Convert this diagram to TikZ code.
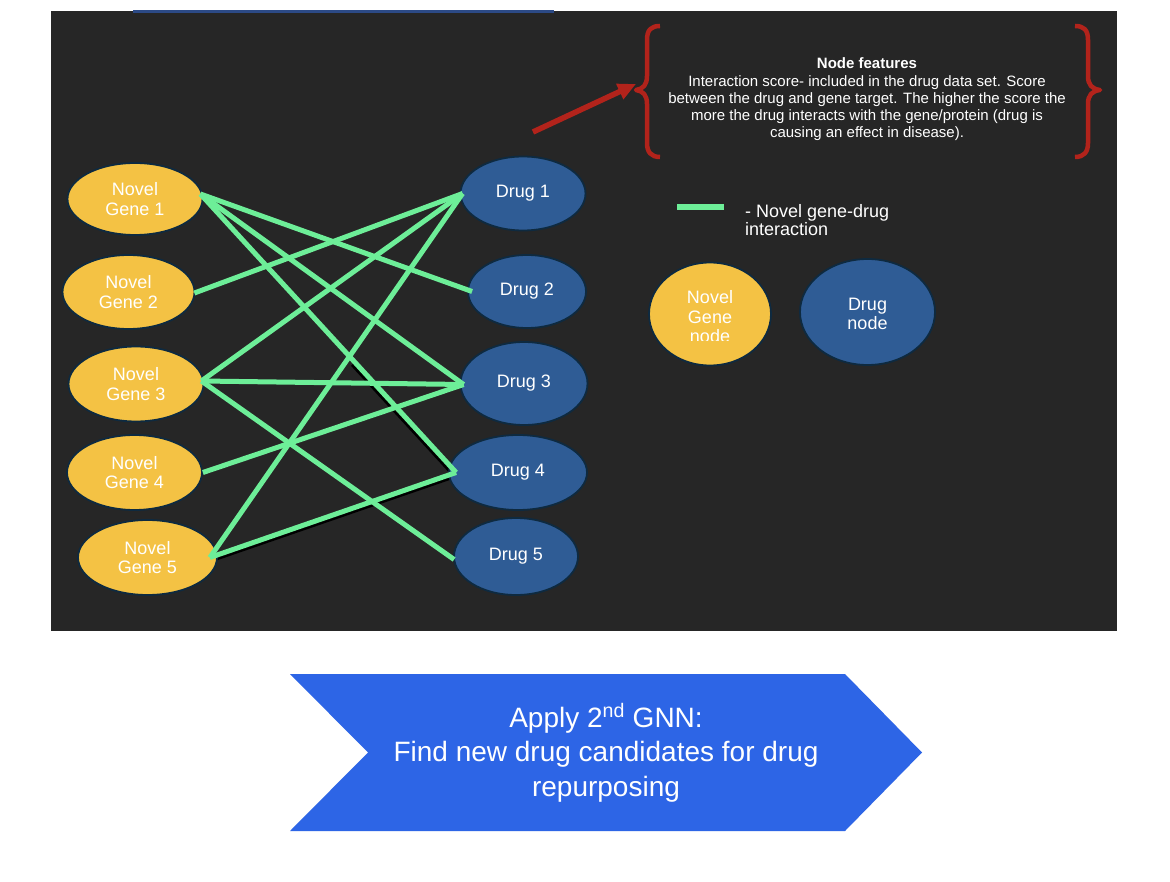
\documentclass[tikz,border=0pt]{standalone}
\usepackage{fontspec}
\setmainfont{Liberation Sans}
\usetikzlibrary{shapes.geometric,arrows.meta,calc}
\definecolor{panelbg}{HTML}{262626}
\definecolor{geneyel}{HTML}{F4C244}
\definecolor{drugblue}{HTML}{2F5C95}
\definecolor{nodeline}{HTML}{0E2A40}
\definecolor{edgegreen}{HTML}{6DEE98}
\definecolor{bracered}{HTML}{B2231B}
\definecolor{chevblue}{HTML}{2D65E6}
\definecolor{stripblue}{HTML}{2C4A86}
\pgfdeclarelayer{bottom}
\pgfdeclarelayer{shadowlayer}
\pgfsetlayers{bottom,shadowlayer,main}
\begin{document}
\begin{tikzpicture}[x=1pt,y=-1pt,
  nodefont/.style={font=\fontsize{18}{19.5}\selectfont},
  genenode/.style={ellipse, fill=geneyel, draw=nodeline, line width=1.8pt, inner sep=0pt, text=white, align=center, nodefont},
  drugnode/.style={ellipse, fill=drugblue, draw=nodeline, line width=1.8pt, inner sep=0pt, text=white, align=center, nodefont},
  link/.style={draw=edgegreen, line width=5pt},
  linkshadow/.style={draw=black, line width=5pt},
  bracestyle/.style={draw=bracered, line width=4.5pt, line join=round},
  whitetext/.style={text=white, inner sep=0pt},
]
\useasboundingbox (0,0) rectangle (1170,882);
\begin{pgfonlayer}{bottom}
\fill[white] (0,0) rectangle (1170,882);
\fill[panelbg] (51,11) rectangle (1117,631);
\fill[stripblue] (133,10.5) rectangle (554,13);
\end{pgfonlayer}

% gene nodes
\node[genenode, minimum width=135pt, minimum height=72pt] (g1) at (135,199) {Novel\\Gene 1};
\node[genenode, minimum width=132pt, minimum height=74pt] (g2) at (128.5,292) {Novel\\Gene 2};
\node[genenode, minimum width=135pt, minimum height=75pt] (g3) at (136,384) {Novel\\Gene 3};
\node[genenode, minimum width=135pt, minimum height=75pt] (g4) at (134.5,472.5) {Novel\\Gene 4};
\node[genenode, minimum width=139pt, minimum height=75pt] (g5) at (147.5,557.5) {Novel\\Gene 5};

% drug nodes
\node[drugnode, minimum width=125pt, minimum height=74pt] (d1) at (523,193.5) {Drug 1};
\node[drugnode, minimum width=118pt, minimum height=73pt] (d2) at (527,291.5) {Drug 2};
\node[drugnode, minimum width=127pt, minimum height=83pt] (d3) at (524,383.5) {Drug 3};
\node[drugnode, minimum width=138pt, minimum height=75pt] (d4) at (518,472.5) {Drug 4};
\node[drugnode, minimum width=124pt, minimum height=77pt] (d5) at (516,556.5) {Drug 5};

% shadows under two edges (behind the nodes)
\begin{pgfonlayer}{shadowlayer}
\draw[linkshadow] ($($(g1.east)+(-3,-5)$)!0.6!($(d4.west)+(8,0)$)+(-1,3)$) -- ($(d4.west)+(8,0)+(-1,3)$);
\draw[linkshadow] ($(g5.east)+(-8,0)+(-1,3)$) -- ($(d4.west)+(8,0)+(-1,3)$);
\end{pgfonlayer}

% edges
\draw[link] ($(g1.east)+(-3,-5)$) -- ($(d2.west)+(5,0)$);
\draw[link] ($(g1.east)+(-3,-5)$) -- ($(d3.west)+(4,1)$);
\draw[link] ($(g1.east)+(-3,-5)$) -- ($(d4.west)+(8,0)$);
\draw[link] ($(g2.east)+(-1,1)$) -- ($(d1.west)+(3,0)$);
\draw[link] ($(g3.east)+(-3,-3)$) -- ($(d1.west)+(3,0)$);
\draw[link] ($(g3.east)+(-3,-3)$) -- ($(d3.west)+(4,1)$);
\draw[link] ($(g3.east)+(-3,-3)$) -- ($(d5.west)+(1,3)$);
\draw[link] ($(g4.east)+(0,0)$) -- ($(d3.west)+(4,1)$);
\draw[link] ($(g5.east)+(-8,0)$) -- ($(d1.west)+(3,0)$);
\draw[link] ($(g5.east)+(-8,0)$) -- ($(d4.west)+(8,0)$);

% red arrow and braces
\coordinate (arrowtail) at (533,132);
\coordinate (arrowhead) at (636,84);
\draw[draw=bracered, line width=5.5pt, -{Triangle[length=18pt,width=16pt]}] (arrowtail) -- (arrowhead);
\draw[bracestyle] (660,26) .. controls (651,26) and (647,30) .. (647,40) -- (647,76)
  .. controls (647,85) and (643,89) .. (636,90) .. controls (643,91) and (647,95) .. (647,104)
  -- (647,143) .. controls (647,152) and (651,157) .. (660,157);
\draw[bracestyle] (1075,26) .. controls (1084,26) and (1088,30) .. (1088,40) -- (1088,76)
  .. controls (1088,85) and (1092,89) .. (1100,90) .. controls (1092,91) and (1088,95) .. (1088,104)
  -- (1088,143) .. controls (1088,152) and (1084,157) .. (1075,157);

\node[whitetext, align=center, font=\fontsize{15}{17.2}\selectfont, anchor=base] (feat) at (867,137.7)
  {\textbf{Node features}\\Interaction score- included in the drug data set. Score\\between the drug and gene target. The higher the score the\\more the drug interacts with the gene/protein (drug is\\causing an effect in disease).};

% legend
\coordinate (legA) at (677,207);
\coordinate (legB) at (724,207);
\draw[link, line width=6pt] (legA) -- (legB);
\node[whitetext, align=left, anchor=base west, font=\fontsize{18}{18.5}\selectfont] (legtext) at (745,236) {- Novel gene-drug\\interaction};

\node[genenode, minimum width=122pt, minimum height=103pt] (lg) at (710,314) {};
\begin{scope}
  \clip (640,250) rectangle (780,341);
  \node[whitetext, align=center, nodefont, anchor=base] (lgtext) at (710,343) {Novel\\Gene\\node};
\end{scope}
\node[drugnode, minimum width=135pt, minimum height=106pt] (ld) at (867.5,312) {};
\node[whitetext, align=center, nodefont, anchor=base] (ldtext) at (867.5,330) {Drug\\node};

% chevron
\fill[chevblue] (290,674) -- (845,674) -- (922,752.5) -- (845,831) -- (290,831) -- (368,752.5) -- cycle;
\node[whitetext, align=center, font=\fontsize{28}{34.5}\selectfont, anchor=base] (chevtext) at (606,796)
  {Apply 2\textsuperscript{nd} GNN:\\Find new drug candidates for drug\\repurposing};
\end{tikzpicture}
\end{document}
